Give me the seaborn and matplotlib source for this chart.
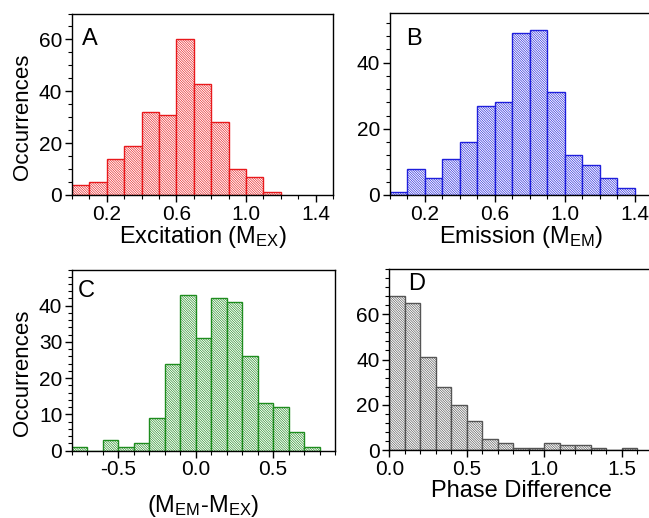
import numpy as np
import pandas as pd
import matplotlib
matplotlib.use("Agg")
import matplotlib.pyplot as plt
from matplotlib.ticker import MultipleLocator, FixedLocator
import seaborn as sns

# counts per 0.1-wide bin
ex_edges = np.round(np.arange(0.0, 1.21, 0.1), 2)
ex_counts = [4, 5, 14, 19, 32, 31, 60, 43, 28, 10, 7, 1]

em_edges = np.round(np.arange(0.0, 1.41, 0.1), 2)
em_counts = [1, 8, 5, 11, 16, 27, 28, 49, 50, 31, 12, 9, 5, 2]

diff_edges = np.round(np.arange(-0.8, 0.81, 0.1), 2)
diff_counts = [1, 0, 3, 1, 2, 9, 24, 43, 31, 42, 41, 26, 13, 12, 5, 1]

phase_edges = np.round(np.arange(0.0, 1.61, 0.1), 2)
phase_counts = [68, 65, 41, 28, 20, 13, 5, 3, 1, 1, 3, 2, 2, 1, 0, 1]

sns.set_style("ticks")
plt.rcParams["font.family"] = ["Liberation Sans", "DejaVu Sans"]
plt.rcParams["mathtext.fontset"] = "custom"
plt.rcParams["mathtext.rm"] = "Liberation Sans"
plt.rcParams["mathtext.it"] = "Liberation Sans:italic"
plt.rcParams["axes.unicode_minus"] = False
plt.rcParams["hatch.linewidth"] = 0.45
plt.rcParams["axes.linewidth"] = 1.0
plt.rcParams["text.color"] = "black"
plt.rcParams["axes.labelcolor"] = "black"
plt.rcParams["xtick.color"] = "black"
plt.rcParams["ytick.color"] = "black"

fig = plt.figure(figsize=(6.49, 5.18), dpi=100)
W, H = 649, 518


def add_axes(left, top, right, bottom):
    return fig.add_axes([left / W, 1 - bottom / H, (right - left) / W, (bottom - top) / H])


def draw_hist(ax, edges, counts, color):
    df = pd.DataFrame({"x": (edges[:-1] + edges[1:]) / 2, "n": counts})
    sns.histplot(data=df, x="x", weights="n", bins=list(edges), ax=ax,
                 stat="count", element="bars", fill=True, color=color)
    for p in ax.patches:
        p.set_facecolor("white")
        p.set_alpha(1.0)
        p.set_edgecolor(color)
        p.set_linewidth(1.0)
        p.set_hatch("\\" * 14)


def style_axes(ax, xlim, ylim, xmajor, ymajor, yminor, letter, lx, ly):
    ax.set_xlim(*xlim)
    ax.set_ylim(*ylim)
    ax.xaxis.set_major_locator(FixedLocator(xmajor))
    ax.xaxis.set_minor_locator(MultipleLocator(0.1))
    ax.yaxis.set_major_locator(FixedLocator(ymajor))
    ax.yaxis.set_minor_locator(MultipleLocator(yminor))
    ax.tick_params(which="major", direction="out", length=5, width=1, labelsize=15, pad=2)
    ax.tick_params(which="minor", direction="out", length=3, width=0.8)
    for s in ax.spines.values():
        s.set_visible(True)
        s.set_color("black")
    ax.set_ylabel("")
    ax.text(lx, ly, letter, transform=ax.transAxes, fontsize=17, va="top", ha="left")


axA = add_axes(72, 13.5, 333, 195)
draw_hist(axA, ex_edges, ex_counts, "#e8191c")
style_axes(axA, (0, 1.5), (0, 70), [0.2, 0.6, 1.0, 1.4], [0, 20, 40, 60], 5, "A", 0.04, 0.92)
axA.set_xlabel(r"Excitation (M$_{\mathregular{EX}}$)", fontsize=17, labelpad=0)
axA.set_ylabel("Occurrences", fontsize=16)
axA.yaxis.set_label_coords(-0.15, 0.43)

axB = add_axes(389.5, 13, 652, 195)
draw_hist(axB, em_edges, em_counts, "#1f1fdc")
style_axes(axB, (0, 1.5), (0, 55), [0.2, 0.6, 1.0, 1.4], [0, 20, 40], 4, "B", 0.065, 0.92)
axB.set_xlabel(r"Emission (M$_{\mathregular{EM}}$)", fontsize=17, labelpad=0)

axC = add_axes(72, 269.5, 335, 450.5)
draw_hist(axC, diff_edges, diff_counts, "#1e8c1e")
style_axes(axC, (-0.8, 0.9), (0, 50), [-0.5, 0.0, 0.5], [0, 10, 20, 30, 40], 2, "C", 0.02, 0.94)
axC.set_xlabel(r"(M$_{\mathregular{EM}}$-M$_{\mathregular{EX}}$)", fontsize=17, labelpad=10)
axC.set_ylabel("Occurrences", fontsize=16)
axC.yaxis.set_label_coords(-0.15, 0.43)

axD = add_axes(389.3, 269, 653, 450)
draw_hist(axD, phase_edges, phase_counts, "#555555")
style_axes(axD, (0, 1.7), (0, 80), [0.0, 0.5, 1.0, 1.5], [0, 20, 40, 60], 4, "D", 0.07, 0.98)
axD.set_xlabel("Phase Difference", fontsize=17, labelpad=1)

fig.savefig("out.png", dpi=100)
